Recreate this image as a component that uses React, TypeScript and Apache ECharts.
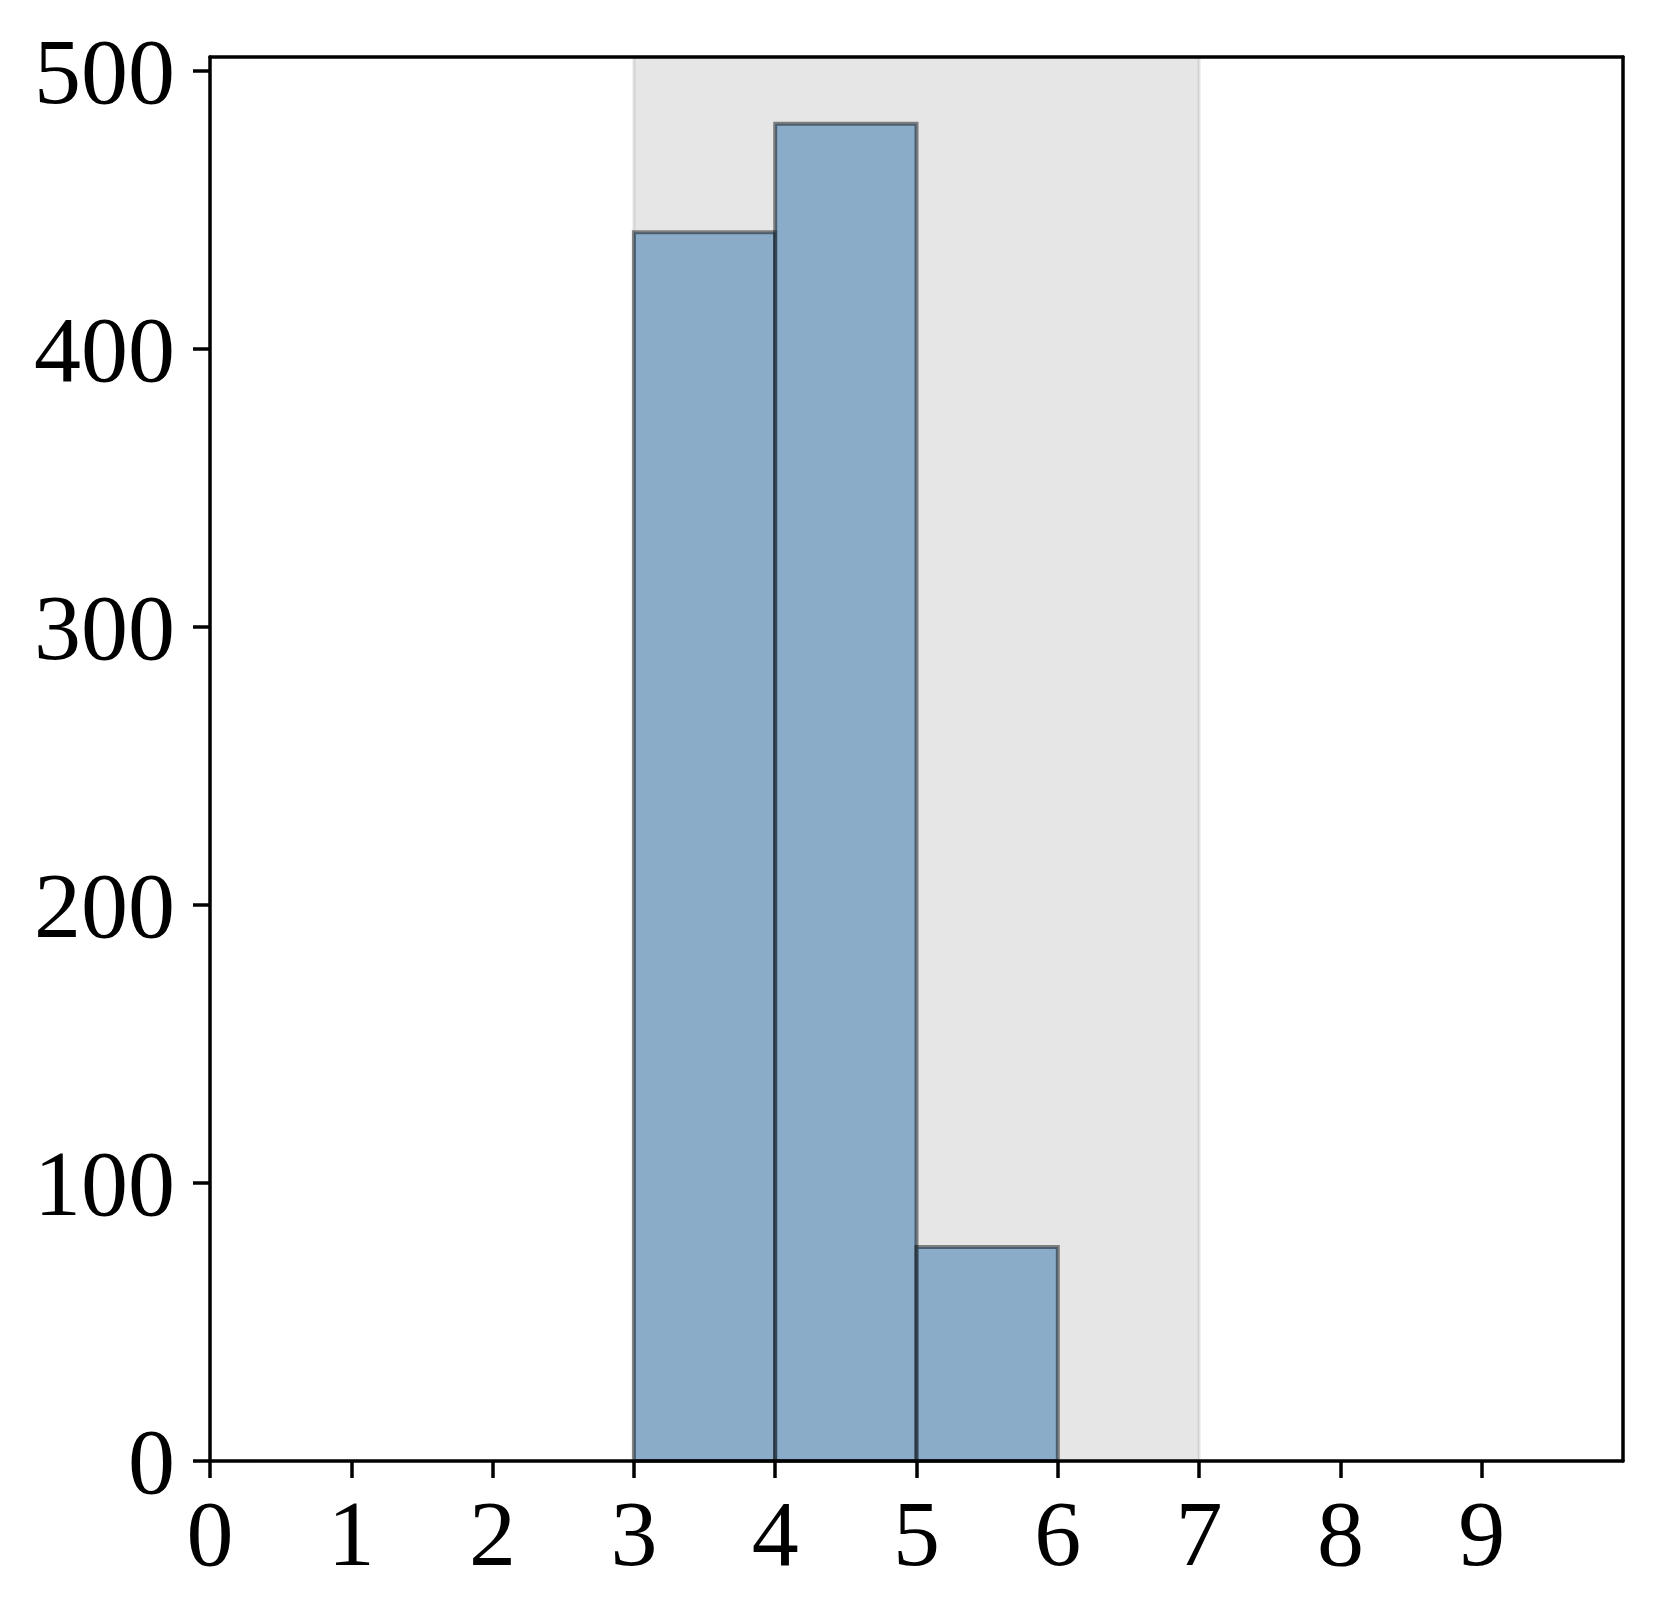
import React, { useEffect, useRef } from "react";
import * as echarts from "echarts";

// Histogram bins: [left edge, right edge]
const binEdges: number[][] = [
  [3, 4],
  [4, 5],
  [5, 6],
];
const binCounts: number[] = [442, 481, 77];
const shadedRange: number[] = [3, 7];
const xTicks: number[] = [0, 1, 2, 3, 4, 5, 6, 7, 8, 9];
const yTicks: number[] = [0, 100, 200, 300, 400, 500];

export default function App() {
  const ref = useRef<HTMLDivElement>(null);
  useEffect(() => {
    if (!ref.current) return;
    const chart = echarts.init(ref.current, null, { renderer: "svg" });
    const font = "'Liberation Serif', 'Times New Roman', serif";
    const data = binEdges.map((e, i) => [e[0], e[1], binCounts[i]]);
    const axisLineStyle = { color: "#000", width: 3.5 };
    chart.setOption({
      animation: false,
      backgroundColor: "#fff",
      grid: { left: 210, top: 57, right: 37, bottom: 162 },
      xAxis: [
        {
          type: "value",
          min: 0,
          max: 10,
          z: 10,
          axisLine: { show: true, onZero: false, lineStyle: axisLineStyle },
          axisTick: {
            show: true,
            length: 17,
            lineStyle: { color: "#000", width: 3.5 },
            customValues: xTicks,
          },
          axisLabel: {
            show: true,
            fontFamily: font,
            fontSize: 94,
            color: "#000",
            margin: 25,
            customValues: xTicks,
          },
          splitLine: { show: false },
        },
        {
          type: "value",
          position: "top",
          min: 0,
          max: 10,
          z: 10,
          axisLine: { show: true, onZero: false, lineStyle: axisLineStyle },
          axisTick: { show: false },
          axisLabel: { show: false },
          splitLine: { show: false },
        },
      ],
      yAxis: [
        {
          type: "value",
          min: 0,
          max: 505,
          z: 10,
          axisLine: { show: true, onZero: false, lineStyle: axisLineStyle },
          axisTick: {
            show: true,
            length: 17,
            lineStyle: { color: "#000", width: 3.5 },
            customValues: yTicks,
          },
          axisLabel: {
            show: true,
            fontFamily: font,
            fontSize: 94,
            color: "#000",
            margin: 35,
            customValues: yTicks,
          },
          splitLine: { show: false },
        },
        {
          type: "value",
          position: "right",
          min: 0,
          max: 505,
          z: 10,
          axisLine: { show: true, onZero: false, lineStyle: axisLineStyle },
          axisTick: { show: false },
          axisLabel: { show: false },
          splitLine: { show: false },
        },
      ],
      series: [
        {
          type: "custom",
          xAxisIndex: 0,
          yAxisIndex: 0,
          data: data,
          z: 3,
          renderItem: (params: any, api: any) => {
            const x0 = api.value(0);
            const x1 = api.value(1);
            const v = api.value(2);
            const p0 = api.coord([x0, 0]);
            const p1 = api.coord([x1, v]);
            return {
              type: "rect",
              shape: {
                x: p0[0],
                y: p1[1],
                width: p1[0] - p0[0],
                height: p0[1] - p1[1],
              },
              style: {
                fill: "rgba(70,130,180,0.58)",
                stroke: "rgba(0,0,0,0.45)",
                lineWidth: 4,
              },
            };
          },
          markArea: {
            silent: true,
            z: 1,
            itemStyle: {
              color: "rgba(128,128,128,0.2)",
              borderColor: "rgba(128,128,128,0.2)",
              borderWidth: 3,
            },
            data: [[{ xAxis: shadedRange[0] }, { xAxis: shadedRange[1] }]],
          },
        },
      ],
    });
    return () => chart.dispose();
  }, []);
  return (
    <div
      ref={ref}
      style={{ position: "absolute", left: 0, top: 0, width: 1660, height: 1623 }}
    />
  );
}
